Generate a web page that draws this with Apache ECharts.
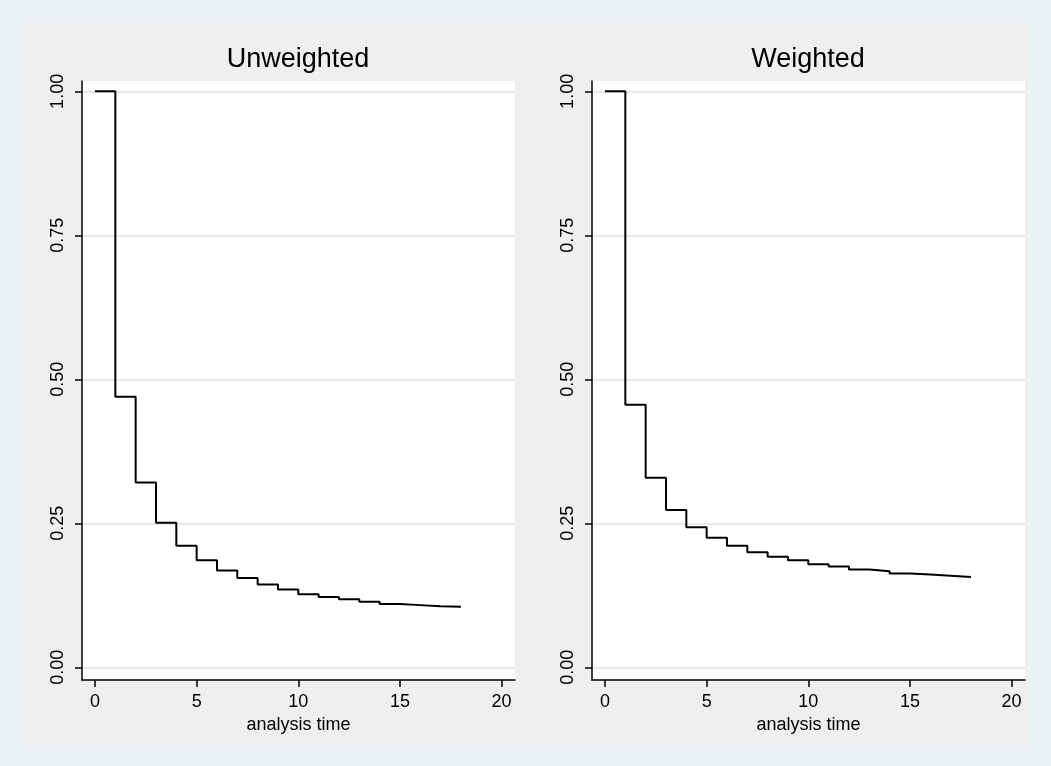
<!DOCTYPE html>
<html>
<head>
<meta charset="utf-8">
<title>Kaplan-Meier: Unweighted vs Weighted</title>
<script src="https://cdn.jsdelivr.net/npm/echarts@6.0.0/dist/echarts.min.js"></script>
<style>
	html, body { margin: 0; padding: 0; background: #eaf2f3; }
	#chart { width: 1051px; height: 766px; }
</style>
</head>
<body>
<div id="chart"></div>
<script>
// analysis time (steps)
var times = [0, 1, 2, 3, 4, 5, 6, 7, 8, 9, 10, 11, 12, 13, 14, 15, 16, 17, 18];
// survivor estimates
var unweighted = [1.0, 0.470, 0.321, 0.251, 0.211, 0.186, 0.168, 0.155, 0.144, 0.135, 0.127,
	0.122, 0.118, 0.114, 0.110, 0.108, 0.106, 0.105, 0.105];
var weighted = [1.0, 0.456, 0.329, 0.273, 0.243, 0.225, 0.211, 0.200, 0.192, 0.186, 0.179,
	0.175, 0.170, 0.167, 0.163, 0.161, 0.159, 0.157, 0.157];
var panelTitles = ['Unweighted', 'Weighted'];
var xTicks = [0, 5, 10, 15, 20];
var yTicks = [0, 0.25, 0.5, 0.75, 1];

var font = 'Liberation Sans, Arial, Helvetica, sans-serif';

function pairs(xs, ys){
	var out = [];
	for (var i = 0; i < xs.length; i++){
		out.push([xs[i], ys[i]]);
	}
	return out;
}

function makeXAxis(idx){
	return {
		type: 'value',
		gridIndex: idx,
		min: -0.64,
		max: 20.66,
		name: 'analysis time',
		nameLocation: 'middle',
		nameGap: 33,
		nameTextStyle: { fontFamily: font, fontSize: 18, color: '#000' },
		axisLine: { show: true, onZero: false, lineStyle: { color: '#000', width: 1.5 } },
		axisTick: { show: true, inside: false, length: 7, customValues: xTicks,
			lineStyle: { color: '#000', width: 1.5 } },
		axisLabel: { customValues: xTicks, margin: 13, fontFamily: font, fontSize: 18, color: '#000' },
		splitLine: { show: false }
	};
}

function makeYAxis(idx){
	return {
		type: 'value',
		gridIndex: idx,
		min: -0.022,
		max: 1.018,
		axisLine: { show: true, onZero: false, lineStyle: { color: '#000', width: 1.5 } },
		axisTick: { show: true, inside: false, length: 7, customValues: yTicks,
			lineStyle: { color: '#000', width: 1.5 } },
		axisLabel: {
			customValues: yTicks,
			rotate: 90,
			margin: 15,
			fontFamily: font,
			fontSize: 18,
			color: '#000',
			formatter: function(v){ return Number(v).toFixed(2); }
		},
		splitLine: { show: true, lineStyle: { color: '#e6e9e9', width: 2 } }
	};
}

function makeSeries(idx, ys){
	return {
		type: 'line',
		xAxisIndex: idx,
		yAxisIndex: idx,
		step: 'end',
		symbol: 'none',
		data: pairs(times, ys),
		lineStyle: { color: '#000', width: 2 },
		animation: false
	};
}

var myChart = echarts.init(document.getElementById('chart'));

var option = {
	backgroundColor: '#eaf2f3',
	animation: false,
	graphic: [
		{
			type: 'rect',
			z: -1,
			silent: true,
			shape: { x: 23, y: 23, width: 1005, height: 723 },
			style: { fill: '#efefef' }
		}
	],
	title: [
		{ text: panelTitles[0], left: 298, top: 46, padding: 0, textAlign: 'center',
			textStyle: { fontFamily: font, fontSize: 27, fontWeight: 'normal', color: '#000' } },
		{ text: panelTitles[1], left: 808, top: 46, padding: 0, textAlign: 'center',
			textStyle: { fontFamily: font, fontSize: 27, fontWeight: 'normal', color: '#000' } }
	],
	grid: [
		{ left: 82, top: 81, width: 433, height: 599, show: true, backgroundColor: '#fff', borderWidth: 0 },
		{ left: 592, top: 81, width: 433, height: 599, show: true, backgroundColor: '#fff', borderWidth: 0 }
	],
	xAxis: [makeXAxis(0), makeXAxis(1)],
	yAxis: [makeYAxis(0), makeYAxis(1)],
	series: [makeSeries(0, unweighted), makeSeries(1, weighted)]
};

myChart.setOption(option);
</script>
</body>
</html>
